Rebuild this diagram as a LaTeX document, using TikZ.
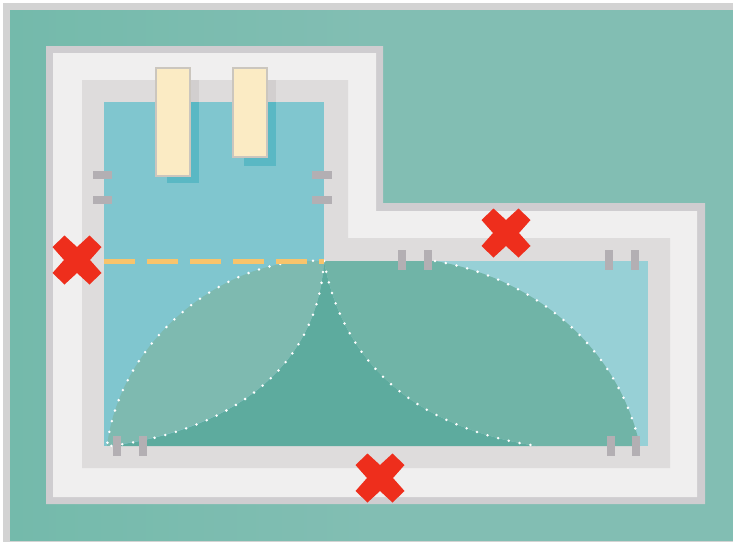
\documentclass[tikz,border=0pt]{standalone}
\usepackage{xcolor}
\begin{document}
\begin{tikzpicture}[x=1pt,y=-1pt]

% Colours
\definecolor{colFrame}{HTML}{D3D3D3}
\definecolor{colGrassL}{HTML}{74BAAB}
\definecolor{colGrassR}{HTML}{82BEB3}
\definecolor{colEdge}{HTML}{CFCDD0}
\definecolor{colWall}{HTML}{F0EFEF}
\definecolor{colDeck}{HTML}{DEDCDC}
\definecolor{colDeckDark}{HTML}{D2CFCF}
\definecolor{colWater}{HTML}{80C6CF}
\definecolor{colWaterLight}{HTML}{97D0D6}
\definecolor{colWaterDark}{HTML}{5AB8C4}
\definecolor{colLens}{HTML}{7EBAB0}
\definecolor{colLobe}{HTML}{70B4A7}
\definecolor{colDeep}{HTML}{5DAB9E}
\definecolor{colBoard}{HTML}{FBEBC4}
\definecolor{colBoardEdge}{HTML}{CBC6BE}
\definecolor{colTab}{HTML}{B3AFB3}
\definecolor{colDash}{HTML}{F8C46C}
\definecolor{colCross}{HTML}{EE2E1C}

\tikzset{
  tab/.style={fill=colTab, draw=none},
  board/.style={fill=colBoard, draw=colBoardEdge, line width=2.4pt},
  dots/.style={white, line width=2.8pt, line cap=round, dash pattern=on 0pt off 11pt}
}

% Page and ground
\useasboundingbox (0,0) rectangle (733,542);
\fill[colFrame] (3,3) rectangle (733,542);
\shade[left color=colGrassL, right color=colGrassR, middle color=colGrassR] (10,10) rectangle (733,540);

% Wall, deck
\fill[colEdge] (46,46) -- (383,46) -- (383,203) -- (705,203) -- (705,504) -- (46,504) -- cycle;
\fill[colWall] (53,53) -- (376,53) -- (376,211) -- (697,211) -- (697,497) -- (53,497) -- cycle;
\fill[colDeck] (82,80) -- (348,80) -- (348,238) -- (670,238) -- (670,468) -- (82,468) -- cycle;

% Water
\fill[colWater] (104,102) rectangle (324,446);
\fill[colWaterLight] (324,261) rectangle (648,446);

% Shadows of the boards
\fill[colDeckDark] (167,80) rectangle (199,102);
\fill[colDeckDark] (244,80) rectangle (276,102);
\fill[colWaterDark] (167,102) rectangle (199,183);
\fill[colWaterDark] (244,102) rectangle (276,166);

% Boards
\draw[board] (156,68) rectangle (190,176);
\draw[board] (233,68) rectangle (267,157);

% Deep area, right lobe, left lobe
\fill[colDeep] (324,261) .. controls (318,365) and (235,430) .. (110,446)
  -- (537,446) .. controls (430,430) and (345,375) .. (324,261) -- cycle;
\fill[colLobe] (324,261) -- (435,261) .. controls (520,275) and (615,335) .. (640,446)
  -- (537,446) .. controls (430,430) and (345,375) .. (324,261) -- cycle;
\fill[colLens] (324,261) .. controls (225,255) and (120,340) .. (107,446)
  .. controls (235,430) and (318,365) .. (324,261) -- cycle;

% Dotted outlines
\draw[dots] (435,261) .. controls (520,275) and (615,335) .. (640,446);
\draw[dots] (324,261) .. controls (345,375) and (430,430) .. (537,446);
\draw[dots] (324,261) .. controls (225,255) and (120,340) .. (107,446);
\draw[dots] (324,261) .. controls (318,365) and (235,430) .. (110,446);

% Dashed line
\draw[colDash, line width=5pt, dash pattern=on 31pt off 12pt] (104,261) -- (324,261);

% Side tabs
\foreach \y in {171,196} {
  \fill[tab] (93,\y) rectangle (112,\y+8);
  \fill[tab] (312,\y) rectangle (332,\y+8);
}
% Top tabs
\foreach \x in {398,424,605,631} {
  \fill[tab] (\x,250) rectangle (\x+8,270);
}
% Bottom tabs
\foreach \x in {113,139,607,632} {
  \fill[tab] (\x,436) rectangle (\x+8,456);
}

% Crosses
\foreach \cx/\cy in {77/260,506/233,380/478} {
  \begin{scope}[shift={(\cx,\cy)}]
  \fill[colCross] (-12.5,-24.5) -- (0,-13) -- (12.5,-24.5) -- (24.5,-13) -- (13,0) -- (24.5,13)
    -- (12.5,24.5) -- (0,13) -- (-12.5,24.5) -- (-24.5,13) -- (-13,0) -- (-24.5,-13) -- cycle;
  \end{scope}
}

\end{tikzpicture}
\end{document}
